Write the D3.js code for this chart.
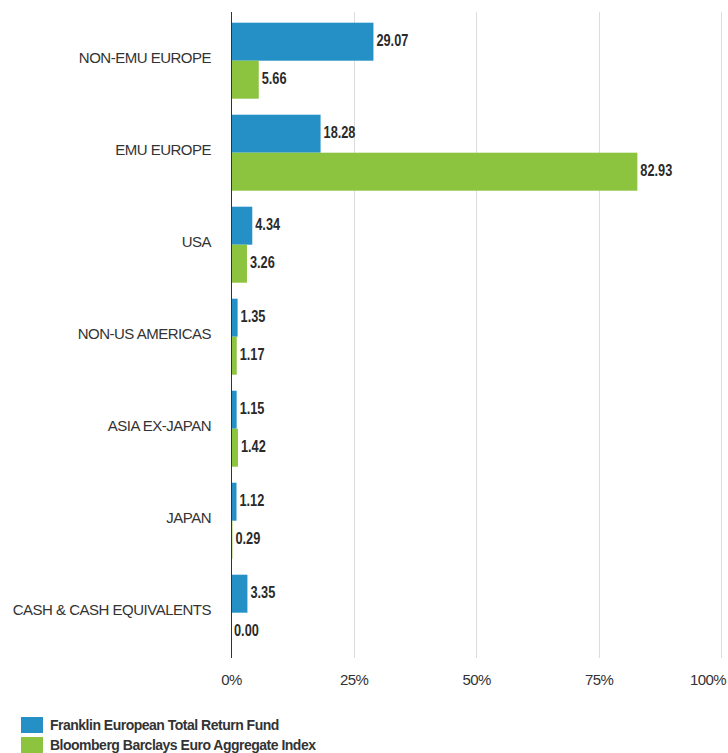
<!DOCTYPE html>
<html>
<head>
<meta charset="utf-8">
<script src="https://cdn.jsdelivr.net/npm/d3@7"></script>
<style>
    body { margin: 0; background: #fff; }
    svg { display: block; }
    .grid line { stroke: #dcdcdc; stroke-width: 1; shape-rendering: crispEdges; }
    .axis text { font-family: "Liberation Sans", Arial, sans-serif; fill: #333; }
    .val { font-family: "Liberation Sans", Arial, sans-serif; font-weight: bold; font-size: 17px; fill: #2a2a2a; }
    .legend text { font-family: "Liberation Sans", Arial, sans-serif; font-weight: bold; font-size: 14px; fill: #333; letter-spacing: -0.5px; }
</style>
</head>
<body>
<svg width="728" height="753"></svg>
<script>
    // data
    var categories = ["NON-EMU EUROPE", "EMU EUROPE", "USA", "NON-US AMERICAS", "ASIA EX-JAPAN", "JAPAN", "CASH & CASH EQUIVALENTS"];
    var seriesNames = ["Franklin European Total Return Fund", "Bloomberg Barclays Euro Aggregate Index"];
    var fundValues = [29.07, 18.28, 4.34, 1.35, 1.15, 1.12, 3.35];
    var indexValues = [5.66, 82.93, 3.26, 1.17, 1.42, 0.29, 0.00];
    var tickValues = [0, 25, 50, 75, 100];
    var colors = ["#2490c6", "#8cc33f"];

    var svg = d3.select("svg");
    var plotLeft = 231, plotRight = 721, plotTop = 14.7, plotBottom = 658.7;

    var x = d3.scaleLinear().domain([0, 100]).range([plotLeft, plotRight]);
    var y = d3.scaleBand().domain(categories).range([plotTop, plotBottom]).paddingInner(0.174).paddingOuter(0.087);
    var sub = d3.scaleBand().domain([0, 1]).range([0, y.bandwidth()]);

    // gridlines
    svg.append("g").attr("class", "grid")
        .selectAll("line").data(tickValues.slice(1)).enter().append("line")
        .attr("x1", function (d) { return Math.round(x(d)) + 0.5; })
        .attr("x2", function (d) { return Math.round(x(d)) + 0.5; })
        .attr("y1", 12).attr("y2", 658);

    var rows = categories.map(function (c, i) { return { cat: c, vals: [fundValues[i], indexValues[i]] }; });

    var groups = svg.selectAll(".row").data(rows).enter().append("g")
        .attr("class", "row")
        .attr("transform", function (d) { return "translate(0," + y(d.cat) + ")"; });

    groups.selectAll("rect").data(function (d) { return d.vals; }).enter().append("rect")
        .attr("x", x(0))
        .attr("y", function (d, j) { return sub(j); })
        .attr("width", function (d) { return x(d) - x(0); })
        .attr("height", sub.bandwidth())
        .attr("fill", function (d, j) { return colors[j]; });

    // value labels, squeezed horizontally like the narrow bold face of the original
    groups.selectAll("text.val").data(function (d) { return d.vals; }).enter().append("text")
        .attr("class", "val")
        .attr("transform", function (d, j) {
            return "translate(" + (x(d) + 3) + "," + (sub(j) + sub.bandwidth() / 2 - 1.5) + ") scale(0.75,1)";
        })
        .attr("dy", "0.35em")
        .text(function (d) { return d.toFixed(2); });

    // y axis (category labels)
    var yAxis = d3.axisLeft(y).tickSize(0).tickPadding(20);
    var gy = svg.append("g").attr("class", "axis").attr("transform", "translate(" + plotLeft + ",-2.5)").call(yAxis);
    gy.select(".domain").remove();
    gy.selectAll("text").attr("font-size", 15).attr("fill", "#333").style("letter-spacing", "-0.5px");
    svg.append("line").attr("x1", plotLeft + 0.5).attr("x2", plotLeft + 0.5).attr("y1", 12).attr("y2", 658)
        .attr("stroke", "#333").attr("stroke-width", 1);

    // x axis
    var xAxis = d3.axisBottom(x).tickValues(tickValues).tickSize(0).tickPadding(0)
        .tickFormat(function (d) { return d + "%"; });
    var gx = svg.append("g").attr("class", "axis").attr("transform", "translate(0,674)").call(xAxis);
    gx.select(".domain").remove();
    gx.selectAll("text").attr("font-size", 15).attr("fill", "#333").style("letter-spacing", "-0.6px");
    gx.selectAll(".tick").filter(function (d) { return d === 100; }).select("text").attr("text-anchor", "end").attr("dx", "0.3em");

    // legend
    var legend = svg.append("g").attr("class", "legend");
    var li = legend.selectAll("g").data(seriesNames).enter().append("g")
        .attr("transform", function (d, i) { return "translate(21," + (717 + i * 20) + ")"; });
    li.append("rect").attr("width", 22).attr("height", 16).attr("fill", function (d, i) { return colors[i]; });
    li.append("text").attr("x", 29).attr("y", 8).attr("dy", "0.35em").text(function (d) { return d; });
</script>
</body>
</html>
